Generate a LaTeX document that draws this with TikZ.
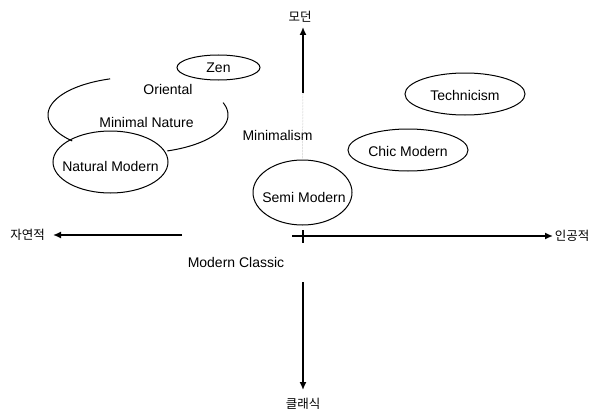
\documentclass[tikz,border=0pt]{standalone}
\usepackage{fontspec}
\setmainfont{Liberation Sans}
\newfontfamily\krfont{Noto Sans CJK KR}
\usetikzlibrary{shapes.geometric,arrows.meta}
\tikzset{
  ell/.style={draw, ellipse, line width=1pt, inner sep=0pt},
  lbl/.style={font=\fontsize{14}{16}\selectfont, inner sep=0pt},
  krlbl/.style={font=\krfont\fontsize{12.5}{15}\selectfont, inner sep=0pt},
  axis/.style={line width=1.5pt, -{Latex[length=8pt,width=7pt]}},
  plain/.style={line width=1.5pt},
  faint/.style={gray!70, line width=0.5pt, densely dotted},
}
\begin{document}
\begin{tikzpicture}[x=1pt,y=-1pt]
\useasboundingbox (0,0) rectangle (602,412);
% ellipses
\node (zenE) [ell, minimum width=83, minimum height=25] at (218.5,67.5) {};
\node (nmE) [ell, minimum width=115, minimum height=62] at (110.5,162) {};
\node (smE) [ell, minimum width=99, minimum height=65] at (302.5,192.5) {};
\node (cmE) [ell, minimum width=120, minimum height=42] at (408,150) {};
\node (tcE) [ell, minimum width=120, minimum height=42] at (465,94) {};
% open ellipse for Minimal Nature
\draw[line width=1pt] plot[domain=108:223, samples=60, smooth] ({138+90*cos(\x)},{115-38*sin(\x)});
\draw[line width=1pt] plot[domain=-71:19, samples=40, smooth] ({138+90*cos(\x)},{115-38*sin(\x)});
% texts
\node (zen) [lbl] at (zenE.center) {Zen};
\node (nm) [lbl] at (110.5,166) {Natural Modern};
\node (sm) [lbl] at (304,197) {Semi Modern};
\node (cm) [lbl] at (408,151) {Chic Modern};
\node (tc) [lbl] at (465,95) {Technicism};
\node (ori) [lbl] at (168,89) {Oriental};
\node (mn) [lbl] at (146.5,122) {Minimal Nature};
\node (mi) [lbl] at (277.5,135) {Minimalism};
\node (mc) [lbl] at (236,262) {Modern Classic};
% axis labels
\node (top) [krlbl] at (300,17) {모던};
\node (bot) [krlbl] at (303,404) {클래식};
\node (lft) [krlbl] at (27.5,235) {자연적};
\node (rgt) [krlbl] at (572,236) {인공적};
% axis coordinates
\coordinate (vt1) at (303,93);
\coordinate (vt0) at (303,27);
\coordinate (vb1) at (303,282);
\coordinate (vb0) at (303,390);
\coordinate (hl1) at (182,235);
\coordinate (hl0) at (53,235);
\coordinate (hr1) at (292,236);
\coordinate (hr0) at (553,236);
\coordinate (tk1) at (303,230);
\coordinate (tk0) at (303,243);
% axes
\draw[axis] (vt1) -- (vt0);
\draw[faint] (vt1) -- (smE.north);
\draw[axis] (vb1) -- (vb0);
\draw[axis] (hl1) -- (hl0);
\draw[axis] (hr1) -- (hr0);
\draw[plain, line width=1.2pt] (tk1) -- (tk0);
\end{tikzpicture}
\end{document}
